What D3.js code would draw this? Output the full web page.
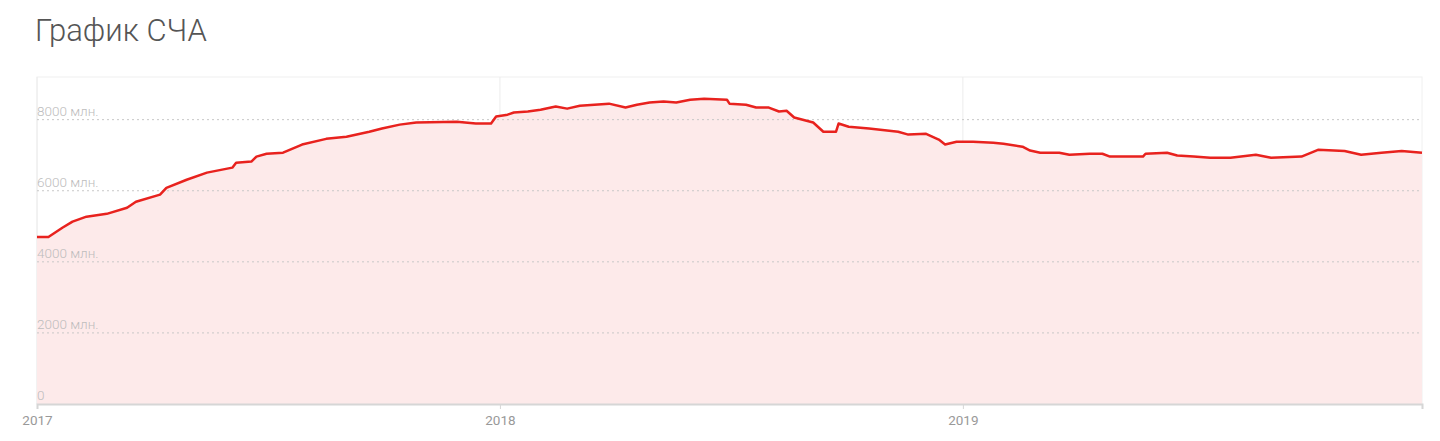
<!DOCTYPE html>
<html>
<head>
<meta charset="utf-8">
<script src="https://cdn.jsdelivr.net/npm/d3@7"></script>
<style>
  body { margin: 0; background: #fff; font-family: Roboto, "Open Sans", sans-serif; }
  .title { font-weight: 300; fill: #555; }
  .ylab { fill: #bdbdbd; font-size: 13.5px; font-weight: 300; }
  .xaxis text { fill: #999; font-family: Roboto, sans-serif; }
</style>
</head>
<body>
<div id="chart"></div>
<script>
const dates = [
  "2017-01-01","2017-01-10","2017-01-21","2017-01-29","2017-02-09","2017-02-25",
  "2017-03-13","2017-03-20","2017-04-08","2017-04-13","2017-04-29","2017-05-15",
  "2017-06-04","2017-06-07","2017-06-19","2017-06-23","2017-07-01","2017-07-14",
  "2017-07-29","2017-08-17","2017-09-02","2017-09-20","2017-09-30","2017-10-14",
  "2017-10-27","2017-11-28","2017-12-13","2017-12-25","2017-12-29",
  "2018-01-07","2018-01-12","2018-01-23","2018-02-02","2018-02-14","2018-02-23",
  "2018-03-05","2018-03-28","2018-04-10","2018-04-19","2018-04-29","2018-05-10",
  "2018-05-20","2018-05-31","2018-06-11","2018-06-29","2018-07-01","2018-07-14",
  "2018-07-22","2018-08-01","2018-08-09","2018-08-15","2018-08-21","2018-09-05",
  "2018-09-13","2018-09-23","2018-09-25","2018-10-03","2018-10-19","2018-11-11",
  "2018-11-19","2018-12-03","2018-12-13","2018-12-18","2018-12-27",
  "2019-01-09","2019-01-25","2019-02-02","2019-02-17","2019-02-23","2019-03-03",
  "2019-03-18","2019-03-26","2019-04-11","2019-04-21","2019-04-27","2019-05-23",
  "2019-05-25","2019-06-11","2019-06-19","2019-07-02","2019-07-15","2019-07-31",
  "2019-08-20","2019-09-01","2019-09-25","2019-10-08","2019-10-29","2019-11-11",
  "2019-11-27","2019-12-13","2019-12-29"
]
const values = [
  4700,4700,4960,5130,5270,5350,
  5520,5690,5890,6080,6310,6510,
  6650,6790,6820,6960,7040,7070,
  7300,7460,7520,7660,7750,7860,
  7920,7940,7890,7890,8090,
  8140,8200,8230,8280,8370,8310,
  8390,8450,8340,8420,8480,8510,
  8480,8560,8590,8560,8450,8420,
  8340,8340,8230,8250,8060,7920,
  7660,7660,7890,7800,7750,7660,
  7580,7600,7440,7300,7380,
  7380,7350,7320,7240,7130,7070,
  7070,7010,7040,7040,6960,6960,
  7040,7070,6990,6960,6930,6930,
  7010,6930,6960,7150,7120,7010,
  7070,7120,7070
]
const yTicks = [0, 2000, 4000, 6000, 8000]
const xTicks = ["2017-01-01", "2018-01-01", "2019-01-01"]

const parse = d3.timeParse("%Y-%m-%d")
const data = dates.map((d, i) => ({date: parse(d), value: values[i]}))

const W = 1440, H = 441
const margin = {top: 77, right: 18, bottom: 37, left: 37},
    width = W - margin.left - margin.right,
    height = H - margin.top - margin.bottom

const svg = d3.select("#chart").append("svg")
    .attr("width", W)
    .attr("height", H)

svg.append("text")
    .attr("class", "title")
    .attr("x", 35)
    .attr("y", 41)
    .attr("font-size", 31)
    .text("График СЧА")

const g = svg.append("g")
    .attr("transform", "translate(" + margin.left + "," + margin.top + ")")

const x = d3.scaleTime()
    .domain([parse("2017-01-01"), parse("2019-12-29")])
    .range([0, width])

const y = d3.scaleLinear()
    .domain([0, 9200])
    .range([height, 0])

/* рамка области графика */
g.append("rect")
    .attr("width", width)
    .attr("height", height)
    .attr("fill", "none")
    .attr("stroke", "#f0f0f0")

/* вертикальные линии по годам */
g.append("g")
    .selectAll("line")
    .data(xTicks.map(parse))
    .join("line")
    .attr("x1", d => x(d)).attr("x2", d => x(d))
    .attr("y1", 0).attr("y2", height)
    .attr("stroke", "#ececec")

/* заливка под линией */
const area = d3.area()
    .x(d => x(d.date))
    .y0(y(0))
    .y1(d => y(d.value))

g.append("path")
    .datum(data)
    .attr("d", area)
    .attr("fill", "#fdeaea")

/* горизонтальные пунктирные линии */
g.append("g")
    .selectAll("line")
    .data(yTicks.filter(d => d > 0))
    .join("line")
    .attr("x1", 0).attr("x2", width)
    .attr("y1", d => y(d)).attr("y2", d => y(d))
    .attr("stroke", "#c8c8c8")
    .attr("stroke-dasharray", "2,3")

g.append("g")
    .selectAll("text")
    .data(yTicks)
    .join("text")
    .attr("class", "ylab")
    .attr("x", 0)
    .attr("y", d => y(d) - 4)
    .text(d => d === 0 ? "0" : d + " млн.")

const line = d3.line()
    .x(d => x(d.date))
    .y(d => y(d.value))

g.append("path")
    .datum(data)
    .attr("d", line)
    .attr("fill", "none")
    .attr("stroke", "#e8221e")
    .attr("stroke-width", 2.5)
    .attr("stroke-linejoin", "round")

/* ось X */
const xAxis = g.append("g")
    .attr("class", "xaxis")
    .attr("transform", "translate(0," + height + ")")
    .call(d3.axisBottom(x)
        .tickValues(xTicks.map(parse))
        .tickFormat(d3.timeFormat("%Y"))
        .tickSize(5)
        .tickPadding(6))
xAxis.select(".domain").attr("stroke", "#d6d6d6").attr("stroke-width", 2)
xAxis.selectAll(".tick line").attr("stroke", "#d6d6d6")
xAxis.selectAll("text").attr("font-size", 13.5).attr("fill", "#999")
</script>
</body>
</html>
